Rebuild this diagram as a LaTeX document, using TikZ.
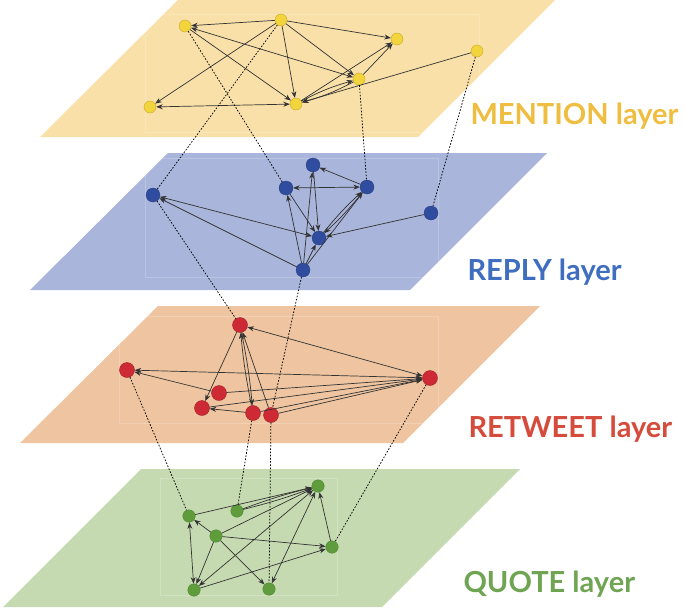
\documentclass[tikz,border=0pt]{standalone}
\usepackage{fontspec}
\setmainfont{Lato}
\usetikzlibrary{arrows.meta}
\definecolor{ylayer}{HTML}{F8E0A8}
\definecolor{blayer}{HTML}{A9B5DA}
\definecolor{olayer}{HTML}{EEC5A0}
\definecolor{glayer}{HTML}{C6DAB2}
\definecolor{ynodec}{HTML}{F2D53C}
\definecolor{ynodeb}{HTML}{C9A82A}
\definecolor{bnodec}{HTML}{2F4C9E}
\definecolor{rnodec}{HTML}{CD2A36}
\definecolor{rnodeb}{HTML}{A02028}
\definecolor{gnodec}{HTML}{5E9C3C}
\definecolor{gnodeb}{HTML}{4A8030}
\definecolor{ylab}{HTML}{EFBD3F}
\definecolor{blab}{HTML}{3F6EC0}
\definecolor{rlab}{HTML}{D54B3C}
\definecolor{glab}{HTML}{6FA552}
\definecolor{edgec}{HTML}{333333}
\begin{document}
\begin{tikzpicture}[x=1pt,y=-1pt,
  ynode/.style={circle,fill=ynodec,draw=ynodeb,line width=0.4pt,minimum size=12pt,inner sep=0pt},
  bnode/.style={circle,fill=bnodec,draw=bnodec!80!black,line width=0.3pt,minimum size=14pt,inner sep=0pt},
  rnode/.style={circle,fill=rnodec,draw=rnodeb,line width=0.4pt,minimum size=15pt,inner sep=0pt},
  gnode/.style={circle,fill=gnodec,draw=gnodeb,line width=0.3pt,minimum size=12.5pt,inner sep=0pt},
  edge/.style={draw=edgec,line width=0.7pt,-{Stealth[length=6.5pt,width=5pt]}},
  bedge/.style={draw=edgec,line width=0.7pt,{Stealth[length=6.5pt,width=5pt]}-{Stealth[length=6.5pt,width=5pt]}},
  link/.style={draw=black,line width=0.75pt,dash pattern=on 1.6pt off 1.6pt},
  inner/.style={draw=white,opacity=0.2,line width=0.6pt},
  lab/.style={anchor=base west,font=\fontsize{29}{31}\selectfont\bfseries}
]
\useasboundingbox (0,0) rectangle (685,608);

% layers
\fill[ylayer] (40,137) -- (178,0) -- (555,0) -- (418,137) -- cycle;
\fill[blayer] (30,290) -- (168,153) -- (547,153) -- (410,290) -- cycle;
\fill[olayer] (20,443) -- (158,306) -- (540,306) -- (403,443) -- cycle;
\fill[glayer] (3,607) -- (141,469) -- (520,469) -- (382,607) -- cycle;

\begin{scope}
\clip (40,137) -- (178,0) -- (555,0) -- (418,137) -- cycle;
\draw[inner] (145,14) rectangle (479,132);
\end{scope}
\draw[inner] (145,158) rectangle (438,277);
\draw[inner] (119,316) rectangle (438,423);
\begin{scope}
\clip (3,607) -- (141,469) -- (520,469) -- (382,607) -- cycle;
\draw[inner] (160,478) rectangle (337,595);
\end{scope}

% labels
\node[lab,text=ylab] (lm) at (467,124) {MENTION layer};
\node[lab,text=blab] (lr) at (464,280) {REPLY layer};
\node[lab,text=rlab] (lt) at (465,437) {RETWEET layer};
\node[lab,text=glab] (lq) at (460,592) {QUOTE layer};

% nodes: mention
\node[ynode] (y1) at (185,26) {};
\node[ynode] (y2) at (281,20) {};
\node[ynode] (y3) at (397,39) {};
\node[ynode] (y4) at (477,51) {};
\node[ynode] (y5) at (359,79) {};
\node[ynode] (y6) at (296,104) {};
\node[ynode] (y7) at (150,107) {};
% reply
\node[bnode] (b1) at (153,195) {};
\node[bnode] (b5) at (313,165) {};
\node[bnode] (b2) at (286,188) {};
\node[bnode] (b3) at (367,187) {};
\node[bnode] (b4) at (431,213) {};
\node[bnode] (b6) at (319,238) {};
\node[bnode] (b7) at (303,270) {};
% retweet
\node[rnode] (r1) at (240,325) {};
\node[rnode] (r2) at (127,370) {};
\node[rnode] (r3) at (430,378) {};
\node[rnode] (r4) at (219,393) {};
\node[rnode] (r5) at (202,408) {};
\node[rnode] (r6) at (253,413) {};
\node[rnode] (r7) at (271,415) {};
% quote
\node[gnode] (g1) at (189,516) {};
\node[gnode] (g2) at (237,511) {};
\node[gnode] (g3) at (318,486) {};
\node[gnode] (g4) at (216,536) {};
\node[gnode] (g5) at (332,547) {};
\node[gnode] (g6) at (194,590) {};
\node[gnode] (g7) at (269,589) {};

% mention edges
\draw[edge] (y2) -- (y1);
\draw[edge] (y2) -- (y3);
\draw[edge] (y2) -- (y7);
\draw[edge] (y2) -- (y6);
\draw[edge] (y2) -- (y5);
\draw[bedge] (y1) -- (y5);
\draw[edge] (y1) -- (y6);
\draw[bedge] (y7) -- (y6);
\draw[edge] (y5) -- (y3);
\draw[edge] (y6) -- (y3);
\draw[edge] (y6) to[bend left=6] (y5);
\draw[edge] (y5) to[bend left=6] (y6);
\draw[edge] (y4) -- (y6);

% reply edges
\draw[edge] (b3) -- (b5);
\draw[bedge] (b2) -- (b3);
\draw[bedge] (b1) -- (b6);
\draw[edge] (b7) -- (b1);
\draw[edge] (b7) -- (b2);
\draw[edge] (b2) -- (b6);
\draw[edge] (b7) -- (b5);
\draw[edge] (b5) -- (b6);
\draw[edge] (b3) to[bend left=4] (b6);
\draw[edge] (b6) to[bend left=4] (b3);
\draw[edge] (b4) -- (b6);
\draw[edge] (b7) -- (b6);
\draw[edge] (b7) -- (b3);

% retweet edges
\draw[bedge] (r1) -- (r3);
\draw[bedge] (r2) -- (r3);
\draw[edge] (r4) -- (r2);
\draw[edge] (r1) -- (r5);
\draw[edge] (r1) to[bend left=3] (r6);
\draw[edge] (r6) to[bend left=3] (r1);
\draw[edge] (r7) -- (r1);
\draw[edge] (r6) -- (r5);
\draw[edge] (r4) -- (r3);
\draw[edge] (r5) -- (r3);
\draw[edge] (r6) -- (r3);
\draw[edge] (r7) -- (r3);

% quote edges
\draw[edge] (g1) -- (g3);
\draw[edge] (g2) to[bend left=3] (g3);
\draw[edge] (g2) to[bend right=3] (g3);
\draw[edge] (g4) -- (g1);
\draw[edge] (g4) -- (g3);
\draw[edge] (g4) -- (g5);
\draw[edge] (g4) -- (g6);
\draw[edge] (g4) -- (g7);
\draw[bedge] (g1) -- (g6);
\draw[bedge] (g3) -- (g6);
\draw[bedge] (g3) -- (g7);
\draw[edge] (g6) -- (g5);
\draw[edge] (g5) -- (g3);

% inter-layer links
\draw[link] (y2) -- (b1);
\draw[link] (y1) -- (b2);
\draw[link] (y5) -- (b3);
\draw[link] (y4) -- (b4);
\draw[link] (b1) -- (r1);
\draw[link] (b7) -- (r7);
\draw[link] (r2) -- (g1);
\draw[link] (r6) -- (g2);
\draw[link] (r7) -- (g7);
\draw[link] (r3) -- (g5);
\end{tikzpicture}
\end{document}
